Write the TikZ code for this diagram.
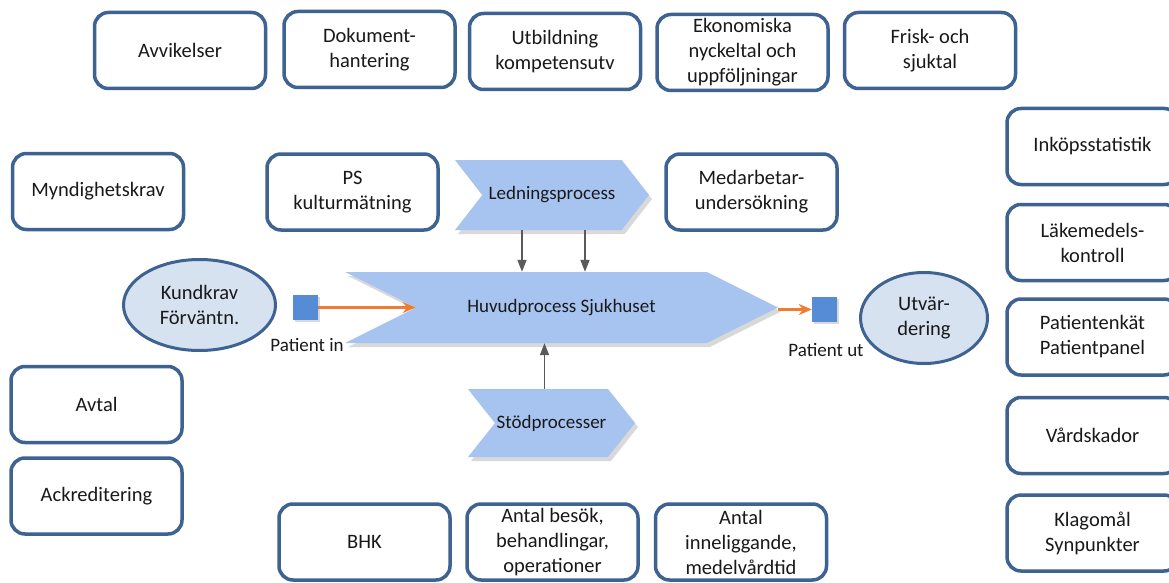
\documentclass[tikz,border=0pt]{standalone}
\usepackage{fontspec}
\setmainfont{Carlito}
\usetikzlibrary{shapes,shapes.geometric,shapes.symbols,shadows,arrows.meta}
\definecolor{boxblue}{RGB}{62,98,145}
\definecolor{chevblue}{RGB}{167,196,241}
\definecolor{ellfill}{RGB}{214,226,240}
\definecolor{sqblue}{RGB}{86,140,214}
\definecolor{pilorange}{RGB}{237,125,49}
\definecolor{pilgray}{RGB}{90,90,90}
\begin{document}
\begin{tikzpicture}[x=1pt,y=-1pt]
				\tikzstyle{ruta}=[rectangle, rounded corners=14pt, draw=boxblue, line width=3.5pt, fill=white, minimum width=171pt, minimum height=76pt, align=center, text=black!90, font=\fontsize{20.5}{25}\selectfont, inner sep=2pt]
				\tikzstyle{oval}=[ellipse, draw=boxblue, line width=3pt, fill=ellfill, align=center, text=black!90, font=\fontsize{20.5}{25}\selectfont, inner sep=0pt]
				\tikzstyle{pil}=[signal, signal from=west, signal to=east, fill=chevblue, text=black!90, font=\fontsize{19}{23}\selectfont, inner sep=0pt, drop shadow={shadow xshift=3pt, shadow yshift=-4pt, opacity=.3}]
				\tikzstyle{ruta2}=[rectangle, fill=sqblue, minimum size=25pt, inner sep=0pt, drop shadow={shadow xshift=2pt, shadow yshift=-2pt, opacity=.3}]
				\tikzstyle{etikett}=[text=black!90, font=\fontsize{19}{23}\selectfont, inner sep=0pt]
				\tikzstyle{flode}=[draw=pilorange, line width=2.5pt, -{Stealth[length=13pt,width=11pt]}]
				\tikzstyle{stod}=[draw=pilgray, line width=1.6pt, -{Triangle[length=12pt,width=9pt]}]
				\useasboundingbox (0,0) rectangle (1169,583);
				% top row
				\node[ruta] (avv) at (180,50.5) {Avvikelser};
				\node[ruta] (dok) at (369.5,49.5) {Dokument-\\hantering};
				\node[ruta] (utb) at (555,51.5) {Utbildning\\kompetensutv};
				\node[ruta] (eko) at (742.5,52.5) {Ekonomiska\\nyckeltal och\\uppföljningar};
				\node[ruta] (fri) at (930,50.5) {Frisk- och\\sjuktal};
				% left column
				\node[ruta] (myn) at (98,191.5) {Myndighetskrav};
				\node[ruta] (avt) at (96.5,404.5) {Avtal};
				\node[ruta] (ack) at (96.5,496) {Ackreditering};
				% right column
				\node[ruta] (ink) at (1092.5,146.5) {Inköpsstatistik};
				\node[ruta] (lak) at (1092.5,242.5) {Läkemedels-\\kontroll};
				\node[ruta] (pat) at (1092.5,337) {Patientenkät\\Patientpanel};
				\node[ruta] (vsk) at (1092.5,435.5) {Vårdskador};
				\node[ruta] (kla) at (1092.5,533) {Klagomål\\Synpunkter};
				% bottom row
				\node[ruta] (bhk) at (364.5,542) {BHK};
				\node[ruta] (bes) at (552.5,542) {Antal besök,\\behandlingar,\\operationer};
				\node[ruta] (inl) at (741,542) {Antal\\inneliggande,\\medelvårdtid};
				% processes
				\node[ruta] (psk) at (352.5,192) {PS\\kulturmätning};
				\node[ruta] (med) at (751.5,192) {Medarbetar-\\undersökning};
				\node[pil, signal pointer angle=104, minimum width=194pt, minimum height=70pt] (led) at (552,195) {Ledningsprocess};
				\node[pil, signal pointer angle=53, minimum width=433pt, minimum height=71pt] (hvd) at (561.5,307.5) {Huvudprocess Sjukhuset};
				\node[pil, signal pointer angle=103, minimum width=167pt, minimum height=68pt] (std) at (551.5,423) {Stödprocesser};
				\node[oval, minimum width=152pt, minimum height=91pt] (kund) at (199.5,305) {Kundkrav\\Förväntn.};
				\node[oval, minimum width=127pt, minimum height=91pt] (utv) at (924,318) {Utvär-\\dering};
				\node[ruta2] (in) at (305.5,307.5) {};
				\node[ruta2] (ut) at (824.5,309.5) {};
				\node[etikett] (inlbl) at (307,345) {Patient in};
				\node[etikett] (utlbl) at (826,350) {Patient ut};
				% connectors
				\draw[flode] (in.east) -- (hvd.west);
				\draw[flode] (hvd.east |- ut.west) -- (ut.west);
				\draw[stod] ([xshift=-30pt]led.south) -- ([xshift=-30pt]led.south |- hvd.north);
				\draw[stod] ([xshift=33pt]led.south) -- ([xshift=33pt]led.south |- hvd.north);
				\draw[stod] ([xshift=-7pt]std.north) -- ([xshift=-7pt]std.north |- hvd.south);
			\end{tikzpicture}
\end{document}
